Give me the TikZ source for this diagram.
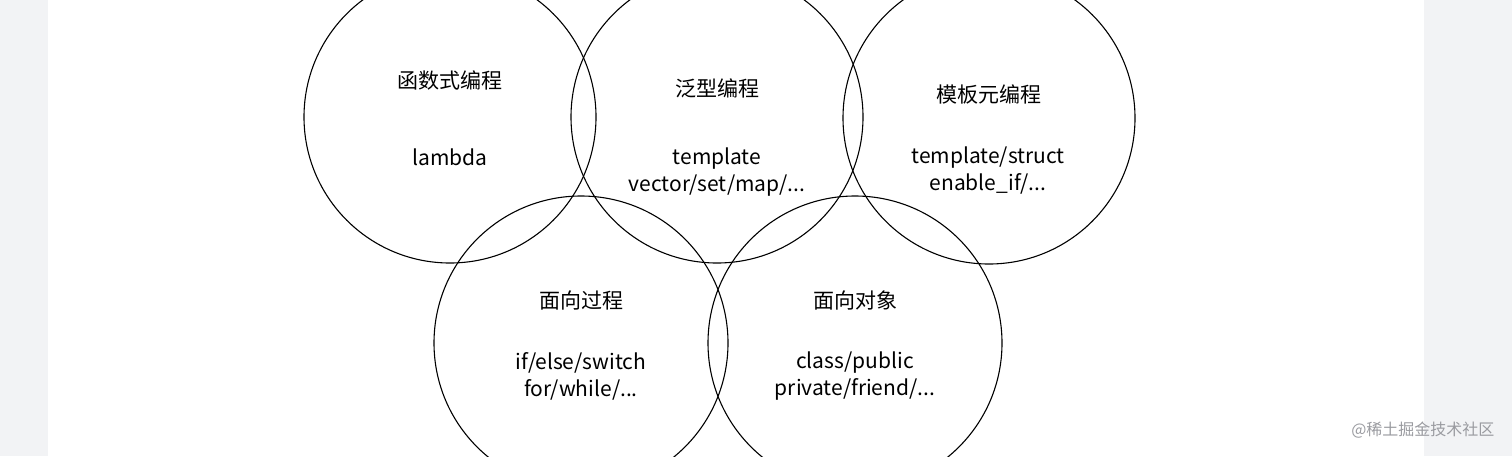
\documentclass[tikz,border=0pt]{standalone}
\usepackage{fontspec}
\setmainfont{Noto Sans CJK SC}
\definecolor{bggrey}{HTML}{F2F3F5}
\definecolor{wm}{HTML}{9A9BA0}
\begin{document}
\begin{tikzpicture}[x=1pt,y=-1pt,
  ring/.style={draw=black,line width=1.1pt,circle,minimum size=292pt,inner sep=0pt},
  lbl/.style={font=\fontsize{21}{27}\selectfont,align=center}]
\useasboundingbox (0,0) rectangle (1512,456);
\fill[bggrey] (0,0) rectangle (1512,456);
\fill[white] (48,0) rectangle (1424,456);
\begin{scope}
\clip (48,0) rectangle (1424,456);
\node[ring] (c1) at (450,117) {};
\node[ring] (c2) at (717,117) {};
\node[ring] (c3) at (989,118) {};
\node[ring,minimum size=294pt] (c4) at (581,343) {};
\node[ring,minimum size=294pt] (c5) at (855,343) {};
\end{scope}
\node[lbl] (t1) at (450,80) {函数式编程};
\node[lbl] (s1) at (450,157) {lambda};
\node[lbl] (t2) at (717,88) {泛型编程};
\node[lbl] (s2) at (717,172) {template\\vector/set/map/...};
\node[lbl] (t3) at (989,94) {模板元编程};
\node[lbl] (s3) at (988,171) {template/struct\\enable\_if/...};
\node[lbl] (t4) at (581,300) {面向过程};
\node[lbl] (s4) at (581,376) {if/else/switch\\for/while/...};
\node[lbl] (t5) at (855,300) {面向对象};
\node[lbl] (s5) at (855,376) {class/public\\private/friend/...};
\node[font=\fontsize{16}{18}\selectfont,text=wm,anchor=east] (wmk) at (1498,430) {@稀土掘金技术社区};
\end{tikzpicture}
\end{document}
